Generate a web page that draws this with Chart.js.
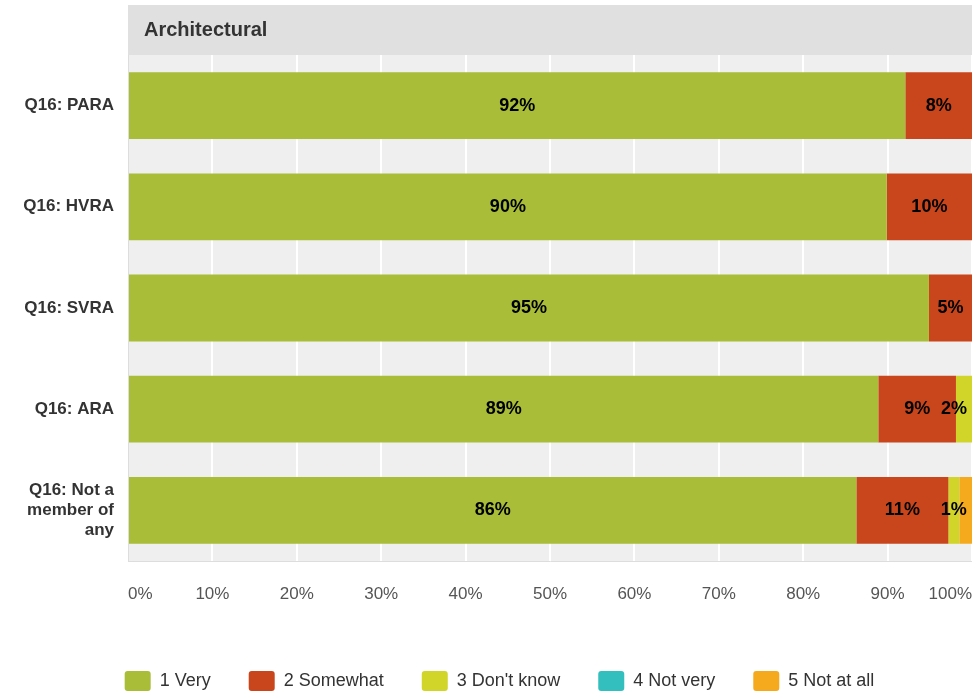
<!DOCTYPE html>
<html>
<head>
<meta charset="utf-8">
<script src="https://cdn.jsdelivr.net/npm/chart.js@4.4.1/dist/chart.umd.min.js"></script>
<style>
  html, body { margin: 0; padding: 0; background: #fff; }
  #wrap { width: 972px; height: 694px; }
</style>
</head>
<body>
<div id="wrap"><canvas id="chart"></canvas></div>
<script>
  // values (percent of respondents)
  const categories = ['Q16: PARA', 'Q16: HVRA', 'Q16: SVRA', 'Q16: ARA', ['Q16: Not a', 'member of', 'any']];
  const seriesNames = ['1 Very', '2 Somewhat', "3 Don't know", '4 Not very', '5 Not at all'];
  const very = [92.1, 89.9, 94.9, 88.9, 86.3];
  const somewhat = [7.9, 10.1, 5.1, 9.2, 10.9];
  const dontKnow = [0, 0, 0, 1.9, 1.3];
  const notVery = [0, 0, 0, 0, 0];
  const notAtAll = [0, 0, 0, 0, 1.5];
  const xTicks = [0, 10, 20, 30, 40, 50, 60, 70, 80, 90, 100];
  const panelTitle = 'Architectural';

  const colors = ['#a9bd38', '#c9461c', '#d1d52a', '#33bfbd', '#f5aa1e'];
  const FONT = '"Liberation Sans", Arial, sans-serif';

  // grey header band + plot background
  const panelPlugin = {
    id: 'panel',
    afterLayout: function (chart) {
      // legend sits a little right of centre in the original
      if (chart.legend) chart.legend.left = 27;
    },
    beforeDraw: function (chart) {
      const ctx = chart.ctx;
      const a = chart.chartArea;
      ctx.save();
      ctx.fillStyle = '#e0e0e0';
      ctx.fillRect(a.left, 5, a.right - a.left, a.top - 5);
      ctx.fillStyle = '#efefef';
      ctx.fillRect(a.left, a.top, a.right - a.left, a.bottom - a.top);
      ctx.fillStyle = '#333';
      ctx.font = 'bold 20px ' + FONT;
      ctx.textBaseline = 'middle';
      ctx.fillText(panelTitle, a.left + 16, 5 + (a.top - 5) / 2);
      ctx.restore();
    }
  };

  // percentage labels in the middle of each segment, skipped when they would collide
  const segLabels = {
    id: 'segLabels',
    afterDatasetsDraw: function (chart) {
      const ctx = chart.ctx;
      const maxRight = chart.chartArea.right - 5;
      ctx.save();
      ctx.font = 'bold 18px ' + FONT;
      ctx.fillStyle = '#000';
      ctx.textAlign = 'center';
      ctx.textBaseline = 'middle';
      const lastRight = {};
      chart.data.datasets.forEach(function (ds, di) {
        chart.getDatasetMeta(di).data.forEach(function (bar, i) {
          const v = ds.data[i];
          if (!v) return;
          const text = Math.round(v) + '%';
          const w = ctx.measureText(text).width;
          let cx = (bar.x + bar.base) / 2;
          if (cx + w / 2 > maxRight) cx = maxRight - w / 2;
          if (lastRight[i] !== undefined && cx - w / 2 < lastRight[i]) return;
          ctx.fillText(text, cx, bar.y);
          lastRight[i] = cx + w / 2;
        });
      });
      ctx.restore();
    }
  };

  const seriesData = [very, somewhat, dontKnow, notVery, notAtAll];

  new Chart(document.getElementById('chart'), {
    type: 'bar',
    data: {
      labels: categories,
      datasets: seriesData.map(function (d, i) {
        return {
          label: seriesNames[i],
          data: d,
          backgroundColor: colors[i],
          borderWidth: 0,
          categoryPercentage: 1,
          barPercentage: 0.66
        };
      })
    },
    options: {
      indexAxis: 'y',
      responsive: true,
      maintainAspectRatio: false,
      animation: false,
      layout: { padding: { top: 55, left: 0, right: 0, bottom: -7 } },
      plugins: {
        legend: {
          position: 'bottom',
          labels: {
            boxWidth: 26,
            boxHeight: 20,
            padding: 38,
            useBorderRadius: true,
            borderRadius: 3,
            color: '#333',
            font: { family: FONT, size: 18 }
          }
        },
        tooltip: { enabled: false }
      },
      scales: {
        x: {
          stacked: true,
          min: 0,
          max: 100,
          afterBuildTicks: function (axis) {
            axis.ticks = xTicks.map(function (v) { return { value: v }; });
          },
          grid: { color: '#ffffff', lineWidth: 2, drawTicks: false },
          border: { color: '#dddddd' },
          ticks: {
            align: 'inner',
            padding: 23,
            color: '#555',
            font: { family: FONT, size: 17 },
            callback: function (v) { return v + '%'; }
          },
          afterFit: function (axis) {
            axis.height = 72;
            axis.paddingLeft = 0;
            axis.paddingRight = 0;
          }
        },
        y: {
          stacked: true,
          grid: { display: false, drawTicks: false },
          border: { color: '#dddddd' },
          ticks: {
            padding: 14,
            color: '#333',
            font: { family: FONT, size: 17, weight: 'bold' }
          },
          afterFit: function (axis) { axis.width = 128; }
        }
      }
    },
    plugins: [panelPlugin, segLabels]
  });
</script>
</body>
</html>
